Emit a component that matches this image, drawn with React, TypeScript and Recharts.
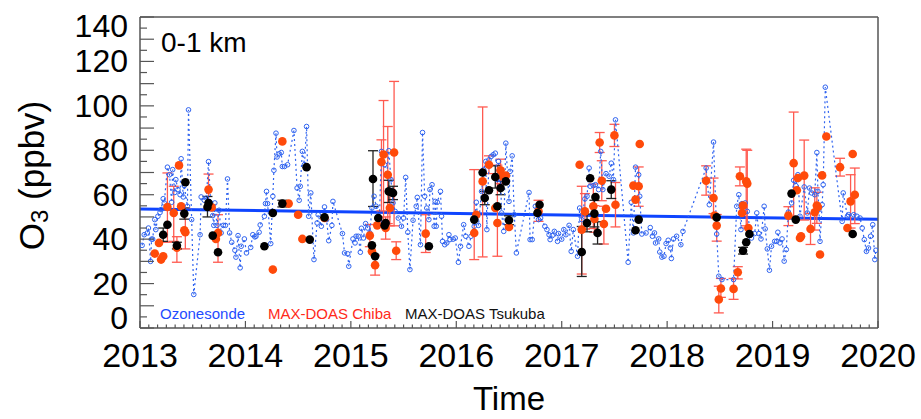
import { ComposedChart, Scatter, Line, XAxis, YAxis, ErrorBar } from "recharts";

// ozonesonde 0-1 km mean (decimal year, ppbv)
const sondeTime = [
  2013.02, 2013.04, 2013.07, 2013.08, 2013.1, 2013.11, 2013.12, 2013.14, 2013.15, 2013.17, 2013.19, 2013.2,
  2013.22, 2013.23, 2013.26, 2013.28, 2013.3, 2013.31, 2013.33, 2013.34, 2013.36, 2013.38, 2013.39, 2013.41,
  2013.42, 2013.45, 2013.46, 2013.49, 2013.51, 2013.57, 2013.58, 2013.61, 2013.63, 2013.65, 2013.67, 2013.69,
  2013.7, 2013.71, 2013.73, 2013.75, 2013.77, 2013.79, 2013.81, 2013.83, 2013.85, 2013.87, 2013.9, 2013.91,
  2013.93, 2013.95, 2013.96, 2013.99, 2014.01, 2014.05, 2014.07, 2014.09, 2014.1, 2014.13, 2014.14, 2014.18,
  2014.19, 2014.2, 2014.21, 2014.24, 2014.26, 2014.27, 2014.29, 2014.3, 2014.32, 2014.34, 2014.35, 2014.37,
  2014.4, 2014.46, 2014.49, 2014.51, 2014.52, 2014.54, 2014.56, 2014.58, 2014.6, 2014.62, 2014.65, 2014.68,
  2014.69, 2014.72, 2014.75, 2014.77, 2014.79, 2014.82, 2014.83, 2014.92, 2014.94, 2014.97, 2014.98, 2015.02,
  2015.04, 2015.05, 2015.07, 2015.09, 2015.1, 2015.12, 2015.14, 2015.16, 2015.18, 2015.2, 2015.22, 2015.24,
  2015.27, 2015.29, 2015.32, 2015.34, 2015.36, 2015.38, 2015.4, 2015.42, 2015.45, 2015.48, 2015.5, 2015.52,
  2015.54, 2015.56, 2015.59, 2015.62, 2015.63, 2015.66, 2015.68, 2015.7, 2015.72, 2015.74, 2015.75, 2015.77,
  2015.79, 2015.8, 2015.81, 2015.82, 2015.85, 2015.86, 2015.87, 2015.89, 2015.91, 2015.93, 2015.94, 2015.97,
  2015.99, 2016.02, 2016.04, 2016.07, 2016.09, 2016.12, 2016.14, 2016.17, 2016.19, 2016.21, 2016.24, 2016.26,
  2016.28, 2016.29, 2016.31, 2016.33, 2016.35, 2016.37, 2016.39, 2016.4, 2016.42, 2016.43, 2016.45, 2016.47,
  2016.5, 2016.51, 2016.53, 2016.55, 2016.57, 2016.69, 2016.7, 2016.72, 2016.75, 2016.78, 2016.8, 2016.84,
  2016.86, 2016.88, 2016.89, 2016.91, 2016.93, 2016.96, 2016.97, 2017.0, 2017.02, 2017.04, 2017.07, 2017.09,
  2017.11, 2017.15, 2017.17, 2017.19, 2017.22, 2017.24, 2017.26, 2017.27, 2017.3, 2017.32, 2017.35, 2017.37,
  2017.39, 2017.42, 2017.45, 2017.47, 2017.49, 2017.51, 2017.63, 2017.66, 2017.68, 2017.7, 2017.73, 2017.74,
  2017.76, 2017.8, 2017.84, 2017.86, 2017.88, 2017.89, 2017.92, 2017.93, 2017.95, 2017.97, 2017.99, 2018.01,
  2018.03, 2018.04, 2018.06, 2018.09, 2018.13, 2018.15, 2018.37, 2018.4, 2018.44, 2018.47, 2018.49, 2018.52,
  2018.63, 2018.66, 2018.68, 2018.7, 2018.71, 2018.74, 2018.76, 2018.79, 2018.8, 2018.83, 2018.85, 2018.87,
  2018.89, 2018.92, 2018.93, 2018.95, 2018.97, 2018.99, 2019.02, 2019.04, 2019.05, 2019.07, 2019.09, 2019.11,
  2019.13, 2019.15, 2019.18, 2019.2, 2019.22, 2019.24, 2019.26, 2019.3, 2019.33, 2019.35, 2019.37, 2019.4,
  2019.42, 2019.43, 2019.44, 2019.45, 2019.47, 2019.48, 2019.5, 2019.66, 2019.67, 2019.71, 2019.72, 2019.77,
  2019.8, 2019.83, 2019.85, 2019.87, 2019.89, 2019.91, 2019.93, 2019.95, 2019.97, 2019.98,
];
const sondeO3 = [
  37.2, 42, 42.8, 45, 30, 40, 40, 48.8, 44.3, 50.3, 52, 53.3,
  58.2, 56.3, 72.4, 69, 56.6, 71.3, 61, 66.8, 62.3, 60, 76.2, 59,
  64.1, 54.8, 98.2, 48.8, 15.1, 42, 59, 57.5, 58.5, 74.9, 56.3, 50.6,
  46.2, 56.3, 46.2, 53, 42.8, 46.2, 46.2, 67.1, 42.8, 38.6, 35, 31.9,
  41.6, 27.1, 36.8, 40.1, 33.8, 36.3, 42, 41, 41.3, 43.1, 46.4, 50.3,
  56, 61.5, 56, 38, 59.3, 71, 87.7, 77, 78.4, 79, 72.7, 72.7,
  73.5, 88.9, 63, 57.5, 63.8, 79.5, 73.5, 90.7, 50.3, 60.8, 30.8, 47.3,
  51, 45.8, 54.5, 48.8, 39.3, 46.2, 57, 42.5, 33.8, 33.4, 27.8, 40.1,
  38.3, 41.3, 41.3, 34.1, 44.9, 40.5, 47, 45, 42.8, 54, 59.3, 54.8,
  48, 79.5, 73.5, 69, 79.8, 66.8, 56.3, 52.5, 49.5, 45.8, 49.5, 67.8,
  43.1, 26.3, 48.5, 54.8, 58.8, 37.5, 88, 59.3, 54, 48.8, 62.3, 64.5,
  45.8, 57, 45.8, 56.6, 61.5, 50.3, 39, 37.5, 38.3, 42, 39.8, 40,
  40.5, 29.6, 36.8, 46.5, 41.3, 36.8, 41.3, 45.8, 56.6, 46.2, 61.5, 71.3,
  75, 44.3, 75.7, 77.2, 78, 78.7, 66.8, 75, 66.8, 51.8, 43.5, 83.2,
  57, 70.5, 77.5, 51, 33.8, 61, 39.8, 39.8, 54.8, 48.8, 49.5, 45.8,
  44.3, 42, 39.8, 41.6, 43.5, 39, 42.5, 40, 44.3, 42, 46.2, 34.5,
  44.3, 32.3, 54, 48.8, 58.1, 59.3, 72, 63.8, 64.1, 64.5, 62.3, 79.5,
  62.3, 69.5, 68.3, 74.2, 66.8, 93.7, 29.6, 56.6, 42.8, 72.4, 69, 59.3,
  42.3, 42.8, 45.2, 41.3, 42.8, 38.3, 40.1, 34.2, 31.9, 32.3, 38, 39.5,
  36, 31.3, 40.1, 41.3, 37.5, 43.5, 72, 55.5, 83.7, 42.3, 23.3, 21.8,
  21.8, 54.8, 60, 44.3, 56, 56.3, 52.5, 42.8, 40.5, 42.5, 51.8, 42.5,
  40.1, 54.8, 44.6, 35.6, 26, 36.8, 39, 39, 43.1, 38.3, 40.1, 30.1,
  35.3, 52.2, 56.3, 66.5, 64.1, 69, 50.3, 63.5, 51.8, 63, 60.8, 60,
  79, 61.5, 53.3, 39, 55.5, 64.5, 108.4, 48, 60.8, 50.3, 51, 51,
  50.3, 49.5, 45, 39.8, 34.5, 36, 41.3, 46.5, 30.8, 35,
];

// MAX-DOAS Chiba, error = [below, above] (null = no bar drawn)
const chibaTime = [
  2013.14, 2013.18, 2013.2, 2013.22, 2013.26, 2013.32, 2013.35, 2013.37, 2013.39, 2013.42, 2013.43, 2013.65,
  2013.68, 2013.72, 2013.74, 2014.26, 2014.35, 2014.41, 2014.5, 2014.54, 2014.75, 2015.18, 2015.2, 2015.23,
  2015.25, 2015.29, 2015.31, 2015.33, 2015.35, 2015.37, 2015.41, 2015.43, 2015.71, 2016.17, 2016.19, 2016.25,
  2016.31, 2016.37, 2016.39, 2016.42, 2016.44, 2016.47, 2016.5, 2016.78, 2017.17, 2017.19, 2017.22, 2017.3,
  2017.31, 2017.36, 2017.38, 2017.4, 2017.42, 2017.5, 2017.51, 2017.68, 2017.7, 2017.73, 2017.74, 2018.37,
  2018.44, 2018.45, 2018.47, 2018.49, 2018.51, 2018.63, 2018.67, 2018.69, 2018.71, 2018.72, 2018.75, 2018.76,
  2018.77, 2019.15, 2019.2, 2019.23, 2019.24, 2019.26, 2019.27, 2019.3, 2019.36, 2019.4, 2019.42, 2019.43,
  2019.45, 2019.47, 2019.51, 2019.64, 2019.71, 2019.74, 2019.76, 2019.78,
];
const chibaO3 = [
  33.5, 38.3, 30.8, 32.3, 54.5, 51.8, 36.1, 73.2, 54.8, 44, 43.1, 62.3,
  54.3, 40.1, 42.8, 26.3, 84, 56, 51, 40.1, 49.5, 41.6, 34.5, 28.3,
  46.2, 74.7, 78.1, 45, 69, 54, 79, 34.8, 42.5, 42.8, 51, 66,
  73.5, 54, 47.3, 71, 68.3, 68.6, 45.5, 52.5, 73.5, 44.3, 52.5, 54.8,
  49.1, 83.5, 66.3, 46.8, 53.7, 86.7, 55.5, 64.1, 57.8, 63.8, 82.8, 66.3,
  58.5, 50.6, 46.1, 12.8, 17.8, 17.6, 25.1, 68.3, 51.8, 55.1, 66, 65,
  45, 50.6, 74.2, 62, 67.5, 40.5, 41.3, 68.6, 44.6, 52.1, 55.1, 54.5,
  33.1, 68.7, 86.2, 72.4, 45, 57, 78.3, 60,
];
const chibaErrLo = [
  null, null, null, null, 15.9, 12.8, 6.5, null, null, null, 7.5, 8.3,
  null, null, 13.2, null, null, null, null, null, null, 5, null, 4.5,
  null, 22, 30, 5, 22, 8, 33, 4, 8.5, 12, null, 34,
  4, null, 15, 6, null, null, null, 4.5, null, 20, 8, 10,
  6, 4.5, 9, 9, null, 5, 10, null, null, 9, null, 6.5,
  7, null, 7, 6, 4, 4.7, 3, 4.3, null, null, 20, 20,
  null, 4.5, 24, null, null, null, null, 20, 7, 8, 8, null,
  null, null, null, 4, null, 12, null, 13,
];
const chibaErrHi = [
  null, null, null, null, 15.3, 12, 5, null, null, null, 10.9, 7,
  null, null, 8.2, null, null, null, null, null, null, 5, null, 4.5,
  null, 10, 24.3, 5, 21.7, 8, 32, 4, 8.5, 28.5, null, 33.5,
  4, null, 26, 5, null, null, null, 5, null, 19.5, 8, 10,
  6, 4.5, 9, 8, null, 5, 10, null, null, 8.7, null, 6.7,
  9, null, 5, 6, 4.5, 4.7, 2.5, 4.2, null, null, 14.5, 15,
  null, 4, 23, null, null, null, null, 16, 7, 11, 6, null,
  null, null, null, 4, null, 12, null, 12,
];

// MAX-DOAS Tsukuba
const tsukubaTime = [
  2013.22, 2013.26, 2013.35, 2013.42, 2013.43, 2013.64, 2013.65, 2013.69, 2013.74, 2014.18, 2014.26, 2014.35,
  2014.58, 2014.61, 2014.75, 2015.2, 2015.21, 2015.23, 2015.26, 2015.32, 2015.33, 2015.36, 2015.39, 2015.4,
  2015.74, 2016.17, 2016.25, 2016.27, 2016.31, 2016.37, 2016.39, 2016.42, 2016.47, 2016.5, 2016.77, 2016.79,
  2017.19, 2017.24, 2017.27, 2017.31, 2017.32, 2017.34, 2017.47, 2017.7, 2017.73, 2018.47, 2018.72, 2018.75,
  2018.78, 2019.18, 2019.22, 2019.76,
];
const tsukubaO3 = [
  42, 46.5, 37.1, 51.5, 65.6, 54.5, 56.3, 41.6, 34.1, 36.8, 51.8, 56,
  72.4, 39.8, 49.8, 37.2, 67.1, 32.3, 49.5, 46.2, 47.3, 61.5, 61, 60.8,
  36.8, 48.8, 70, 58.5, 62, 68, 54.8, 63, 66, 48.5, 51.8, 55.5,
  34.2, 47.3, 67.4, 51.5, 59, 42.8, 62.3, 44, 48.8, 49.8, 34.8, 38.6,
  42.3, 60.5, 48.8, 42.3,
];
const tsukubaErrLo = [
  3, null, 1.5, 2.5, null, 4.5, null, null, null, null, null, 1.5,
  null, null, null, null, 12.4, null, null, null, null, 5, null, 3,
  null, null, null, 3, null, 5, null, 3, null, 2, null, null,
  11, 4, null, 6, null, 5, 4, null, null, null, 1.5, null,
  null, null, null, null,
];
const tsukubaErrHi = [
  3, null, 1.5, 2.5, null, 4.7, null, null, null, null, null, 1.5,
  null, null, null, null, 12.7, null, null, null, null, 5, null, 3,
  null, null, null, 3, null, 5, null, 3, null, 2, null, null,
  11.5, 4, null, 6, null, 5, 4, null, null, null, 1.5, null,
  null, null, null, null,
];

// linear trend of the ozonesonde record
const trendTime = [2013, 2020];
const trendO3 = [53.6, 48.9];

const yearTicks = [2013, 2014, 2015, 2016, 2017, 2018, 2019, 2020];
const o3Ticks = [0, 20, 40, 60, 80, 100, 120, 140];

const W = 921;
const H = 419;
const LEFT = 140;
const RIGHT = 878;
const TOP = 17;
const BOTTOM = 328;

const AXIS = "#555";
const SONDE = "#2f63f0";
const TREND = "#0f45ff";
const CHIBA = "#ff4a0a";
const CHIBA_BAR = "#ff5a50";
const FONT = "'Liberation Sans', Arial, Helvetica, sans-serif";

const sondeData = sondeTime.map((t, i) => ({ t, v: sondeO3[i] }));
const trendData = trendTime.map((t, i) => ({ t, v: trendO3[i] }));
const withErr = (ts: number[], vs: number[], lo: (number | null)[], hi: (number | null)[]) =>
  ts.map((t, i) => ({ t, v: vs[i], err: lo[i] == null ? undefined : [lo[i], hi[i]] }));
const chibaData = withErr(chibaTime, chibaO3, chibaErrLo, chibaErrHi);
const tsukubaData = withErr(tsukubaTime, tsukubaO3, tsukubaErrLo, tsukubaErrHi);

// monthly minor ticks on x, 5 ppbv minor ticks on y
const monthTicks = yearTicks.slice(0, -1).flatMap((y) => Array.from({ length: 12 }, (_, m) => y + m / 12)).concat([2020]);
const yMinorTicks = Array.from({ length: 29 }, (_, i) => i * 5);

const isYear = (v: number) => Math.abs(v - Math.round(v)) < 1e-6;

function BottomTick({ x, y, payload }: any) {
  const major = isYear(payload.value);
  return (
    <g>
      <line x1={x} x2={x} y1={y} y2={y - (major ? 7 : 3.5)} stroke={AXIS} strokeWidth={1.2} />
      {major && (
        <text x={x} y={y + 39} textAnchor="middle" fontSize={34} fill="#000" fontFamily={FONT}>
          {Math.round(payload.value)}
        </text>
      )}
    </g>
  );
}

function TopTick({ x, y, payload }: any) {
  const major = isYear(payload.value);
  return <line x1={x} x2={x} y1={y} y2={y + (major ? 7 : 3.5)} stroke={AXIS} strokeWidth={1.2} />;
}

function LeftTick({ x, y, payload }: any) {
  const v = payload.value;
  const major = v % 10 === 0;
  const shown = o3Ticks.includes(v);
  const shift = v === 0 ? -10 : v === 140 ? 9 : 0;
  return (
    <g>
      <line x1={x} x2={x + (major ? 14 : 7)} y1={y} y2={y} stroke={AXIS} strokeWidth={1.2} />
      {shown && (
        <text x={x - 12} y={y + shift + 11} textAnchor="end" fontSize={32} fill="#000" fontFamily={FONT}>
          {v}
        </text>
      )}
    </g>
  );
}

function RightTick({ x, y, payload }: any) {
  const major = payload.value % 10 === 0;
  return <line x1={x} x2={x - (major ? 14 : 7)} y1={y} y2={y} stroke={AXIS} strokeWidth={1.2} />;
}

const yLabel = () => {
  const cx = 31;
  const cy = (TOP + BOTTOM) / 2 + 3;
  return (
    <text
      x={cx}
      y={cy}
      transform={`rotate(-90 ${cx} ${cy})`}
      textAnchor="middle"
      dominantBaseline="central"
      fontSize={35}
      fill="#000"
      fontFamily={FONT}
    >
      O<tspan fontSize={24} dy={8}>3</tspan>
      <tspan dy={-8}> (ppbv)</tspan>
    </text>
  );
};

const xLabel = () => (
  <text x={(LEFT + RIGHT) / 2} y={410} textAnchor="middle" fontSize={33} fill="#000" fontFamily={FONT}>
    Time
  </text>
);

const panelText = () => (
  <g fontFamily={FONT}>
    <text x={161} y={52} fontSize={28} fill="#000">0-1 km</text>
    <text x={160} y={319} fontSize={15} fill="#1f4cff">Ozonesonde</text>
    <text x={268} y={319} fontSize={15} fill="#ff2a1a">MAX-DOAS Chiba</text>
    <text x={405} y={319} fontSize={15} fill="#111">MAX-DOAS Tsukuba</text>
  </g>
);

const openCircle = (p: any) => <circle cx={p.cx} cy={p.cy} r={2.3} fill="none" stroke={SONDE} strokeWidth={1} />;
const chibaDot = (p: any) => <circle cx={p.cx} cy={p.cy} r={4.3} fill={CHIBA} />;
const tsukubaDot = (p: any) => <circle cx={p.cx} cy={p.cy} r={4.3} fill="#000" />;

export default function App() {
  return (
    <div style={{ width: W, height: H, background: "#fff" }}>
      <style>{"body{margin:0}"}</style>
      <ComposedChart width={W} height={H} margin={{ top: 0, right: 0, bottom: 0, left: 0 }} style={{ fontFamily: FONT }}>
        <XAxis
          dataKey="t"
          type="number"
          domain={[2013, 2020]}
          ticks={monthTicks}
          interval={0}
          height={91}
          tickSize={0}
          tickMargin={0}
          tickLine={false}
          tick={BottomTick}
          axisLine={{ stroke: AXIS, strokeWidth: 1.5 }}
          allowDataOverflow
          label={xLabel}
        />
        <XAxis
          xAxisId="top"
          orientation="top"
          type="number"
          domain={[2013, 2020]}
          ticks={monthTicks}
          interval={0}
          height={17}
          tickSize={0}
          tickMargin={0}
          tickLine={false}
          tick={TopTick}
          axisLine={{ stroke: AXIS, strokeWidth: 1.5 }}
          label={panelText}
        />
        <YAxis
          dataKey="v"
          type="number"
          domain={[0, 140]}
          ticks={yMinorTicks}
          interval={0}
          width={140}
          tickSize={0}
          tickMargin={0}
          tickLine={false}
          tick={LeftTick}
          axisLine={{ stroke: AXIS, strokeWidth: 1.5 }}
          allowDataOverflow
          label={yLabel}
        />
        <YAxis
          yAxisId="right"
          orientation="right"
          type="number"
          domain={[0, 140]}
          ticks={yMinorTicks}
          interval={0}
          width={43}
          tickSize={0}
          tickMargin={0}
          tickLine={false}
          tick={RightTick}
          axisLine={{ stroke: AXIS, strokeWidth: 1.5 }}
        />
        <Scatter
          data={sondeData}
          shape={openCircle}
          line={{ stroke: SONDE, strokeWidth: 1.2, strokeDasharray: "2 3" }}
          lineType="joint"
          isAnimationActive={false}
        />
        <Line data={trendData} dataKey="v" stroke={TREND} strokeWidth={3} dot={false} isAnimationActive={false} />
        <Scatter data={chibaData} shape={chibaDot} isAnimationActive={false}>
          <ErrorBar dataKey="err" direction="y" width={5} stroke={CHIBA_BAR} strokeWidth={1.3} isAnimationActive={false} />
        </Scatter>
        <Scatter data={tsukubaData} shape={tsukubaDot} isAnimationActive={false}>
          <ErrorBar dataKey="err" direction="y" width={5} stroke="#222" strokeWidth={1.3} isAnimationActive={false} />
        </Scatter>
      </ComposedChart>
    </div>
  );
}
